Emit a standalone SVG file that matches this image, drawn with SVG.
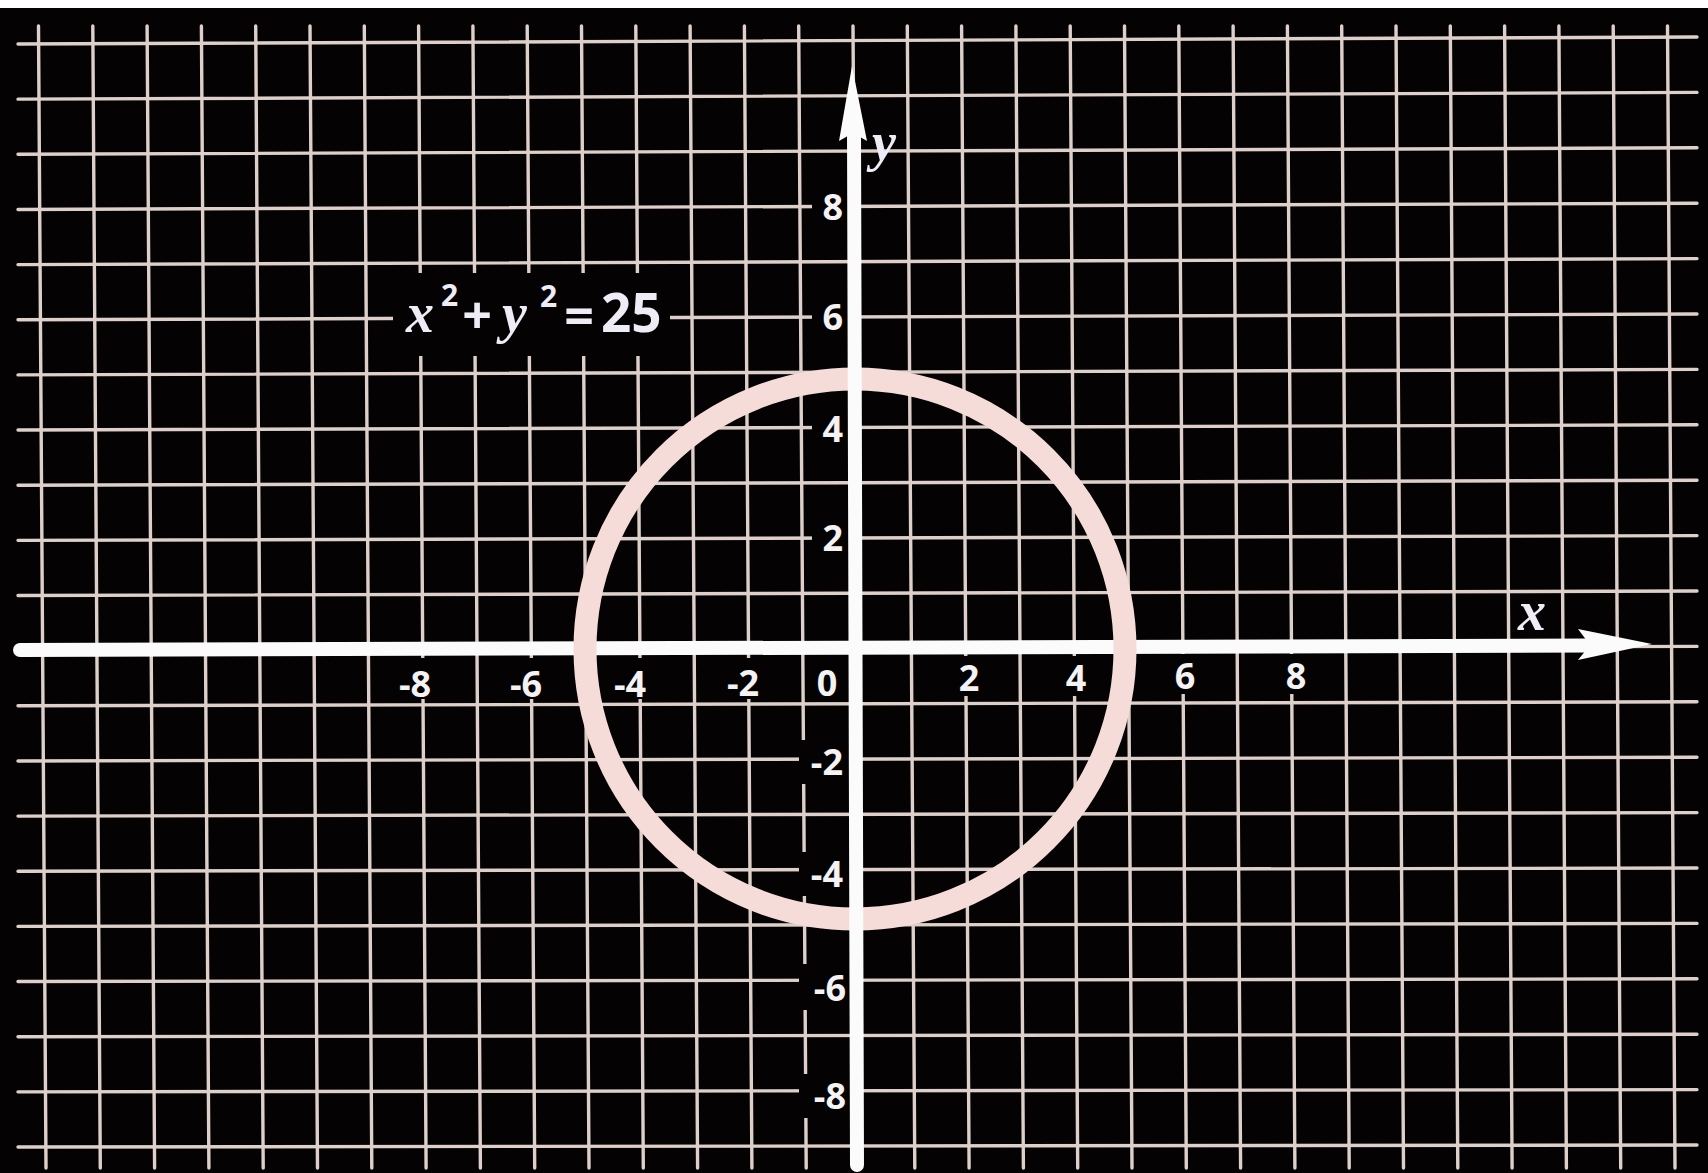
<svg xmlns="http://www.w3.org/2000/svg" width="1708" height="1173" viewBox="0 0 1708 1173">
<style>
.grid line{stroke:#ddd0ca;stroke-width:3.4;stroke-linecap:round}
.bg{fill:#040203}
.num{font-family:"Open Sans","DejaVu Sans",sans-serif;font-weight:700;font-size:36px;fill:#f4f2f2}
.it{font-family:"Liberation Serif","Times New Roman",serif;font-style:italic;font-weight:700;fill:#eeedf6}
.eq{font-family:"Open Sans","Liberation Sans",sans-serif;font-weight:700;fill:#eeedf6}
</style>
<rect width="1708" height="1173" fill="#040203"/>
<rect width="1708" height="8" fill="#ffffff"/>
<g class="grid" id="grid">
<line x1="38.5" y1="26" x2="46" y2="1168"/>
<line x1="92.8" y1="26" x2="100.3" y2="1168"/>
<line x1="147.1" y1="26" x2="154.6" y2="1168"/>
<line x1="201.4" y1="26" x2="208.9" y2="1168"/>
<line x1="255.7" y1="26" x2="263.2" y2="1168"/>
<line x1="310" y1="26" x2="317.5" y2="1168"/>
<line x1="364.3" y1="26" x2="371.8" y2="1168"/>
<line x1="418.6" y1="26" x2="426.1" y2="1168"/>
<line x1="472.9" y1="26" x2="480.4" y2="1168"/>
<line x1="527.2" y1="26" x2="534.7" y2="1168"/>
<line x1="581.5" y1="26" x2="589" y2="1168"/>
<line x1="635.8" y1="26" x2="643.3" y2="1168"/>
<line x1="690.1" y1="26" x2="697.6" y2="1168"/>
<line x1="744.4" y1="26" x2="751.9" y2="1168"/>
<line x1="798.7" y1="26" x2="806.2" y2="1168"/>
<line x1="853" y1="26" x2="860.5" y2="1168"/>
<line x1="907.3" y1="26" x2="914.8" y2="1168"/>
<line x1="961.6" y1="26" x2="969.1" y2="1168"/>
<line x1="1015.9" y1="26" x2="1023.4" y2="1168"/>
<line x1="1070.2" y1="26" x2="1077.7" y2="1168"/>
<line x1="1124.5" y1="26" x2="1132" y2="1168"/>
<line x1="1178.8" y1="26" x2="1186.3" y2="1168"/>
<line x1="1233.1" y1="26" x2="1240.6" y2="1168"/>
<line x1="1287.4" y1="26" x2="1294.9" y2="1168"/>
<line x1="1341.7" y1="26" x2="1349.2" y2="1168"/>
<line x1="1396" y1="26" x2="1403.5" y2="1168"/>
<line x1="1450.3" y1="26" x2="1457.8" y2="1168"/>
<line x1="1504.6" y1="26" x2="1512.1" y2="1168"/>
<line x1="1558.9" y1="26" x2="1566.4" y2="1168"/>
<line x1="1613.2" y1="26" x2="1620.7" y2="1168"/>
<line x1="1667.5" y1="26" x2="1675" y2="1168"/>
<line x1="18" y1="44" x2="1697" y2="37"/>
<line x1="18" y1="99.15" x2="1697" y2="92.4"/>
<line x1="18" y1="154.3" x2="1697" y2="147.8"/>
<line x1="18" y1="209.45" x2="1697" y2="203.2"/>
<line x1="18" y1="264.6" x2="1697" y2="258.6"/>
<line x1="18" y1="319.75" x2="1697" y2="314"/>
<line x1="18" y1="374.9" x2="1697" y2="369.4"/>
<line x1="18" y1="430.05" x2="1697" y2="424.8"/>
<line x1="18" y1="485.2" x2="1697" y2="480.2"/>
<line x1="18" y1="540.35" x2="1697" y2="535.6"/>
<line x1="18" y1="595.5" x2="1697" y2="591"/>
<line x1="18" y1="650.65" x2="1697" y2="646.4"/>
<line x1="18" y1="705.8" x2="1697" y2="701.8"/>
<line x1="18" y1="760.95" x2="1697" y2="757.2"/>
<line x1="18" y1="816.1" x2="1697" y2="812.6"/>
<line x1="18" y1="871.25" x2="1697" y2="868"/>
<line x1="18" y1="926.4" x2="1697" y2="923.4"/>
<line x1="18" y1="981.55" x2="1697" y2="978.8"/>
<line x1="18" y1="1036.7" x2="1697" y2="1034.2"/>
<line x1="18" y1="1091.85" x2="1697" y2="1089.6"/>
<line x1="18" y1="1147" x2="1697" y2="1145"/>
</g>
<g id="label-backgrounds">
<rect class="bg" x="393" y="273" width="277" height="83"/>
<rect class="bg" x="393" y="658" width="44" height="41"/>
<rect class="bg" x="504" y="658" width="44" height="41"/>
<rect class="bg" x="608" y="658" width="44" height="41"/>
<rect class="bg" x="721" y="658" width="44" height="41"/>
<rect class="bg" x="812" y="658" width="30" height="41"/>
<rect class="bg" x="954" y="656" width="30" height="40"/>
<rect class="bg" x="1061" y="656" width="30" height="40"/>
<rect class="bg" x="1170" y="654" width="30" height="40"/>
<rect class="bg" x="1281" y="654" width="30" height="40"/>
<rect class="bg" x="812" y="186" width="38" height="42"/>
<rect class="bg" x="812" y="296" width="38" height="42"/>
<rect class="bg" x="812" y="408" width="38" height="42"/>
<rect class="bg" x="812" y="518" width="38" height="42"/>
<rect class="bg" x="799" y="740" width="52" height="44"/>
<rect class="bg" x="799" y="852" width="52" height="44"/>
<rect class="bg" x="799" y="964" width="52" height="46"/>
<rect class="bg" x="799" y="1074" width="52" height="44"/>
</g>
<g id="connectors">
<g id="x-axis">
<line x1="20" y1="650" x2="1592" y2="645.5" stroke="#fbfbfb" stroke-width="14" stroke-linecap="round"/>
<polygon points="1652,644 1578,629 1590,645 1578,660" fill="#fbfbfb"/>
</g>
</g>
<g id="circle">
<circle cx="855" cy="649" r="270" fill="none" stroke="#f5dcd8" stroke-width="23"/>
</g>
<g id="connectors-y">
<g id="y-axis">
<line x1="854" y1="130" x2="857" y2="1165" stroke="#fbfbfb" stroke-width="14" stroke-linecap="round"/>
<polygon points="852,66 867,141 853,133 839,141" fill="#fbfbfb"/>
</g>
</g>
<g id="x-labels" class="num" text-anchor="middle">
<text x="415" y="697">-8</text>
<text x="526" y="697">-6</text>
<text x="630" y="697">-4</text>
<text x="743" y="696">-2</text>
<text x="827" y="696">0</text>
<text x="969" y="691">2</text>
<text x="1076" y="691">4</text>
<text x="1185" y="689">6</text>
<text x="1296" y="689">8</text>
</g>
<g id="y-labels" class="num" text-anchor="end">
<text x="843" y="220">8</text>
<text x="843" y="330">6</text>
<text x="843" y="442">4</text>
<text x="843" y="551">2</text>
<text x="843" y="775">-2</text>
<text x="843" y="887">-4</text>
<text x="846" y="1001">-6</text>
<text x="846" y="1109">-8</text>
</g>
<g id="axis-names">
<text class="it" x="872" y="160" font-size="54">y</text>
<text class="it" x="1518" y="630" font-size="56">x</text>
</g>
<g id="equation">
<text class="it" x="406" y="332" font-size="56">x</text>
<text class="eq" x="441" y="306" font-size="30" font-weight="600">2</text>
<text class="eq" x="477" y="334" font-size="52" text-anchor="middle">+</text>
<text class="it" x="502" y="332" font-size="56">y</text>
<text class="eq" x="540" y="307" font-size="30" font-weight="600">2</text>
<text class="eq" x="579" y="335" font-size="52" text-anchor="middle">=</text>
<text class="eq" x="601" y="332" font-size="53">25</text>
</g>
</svg>
